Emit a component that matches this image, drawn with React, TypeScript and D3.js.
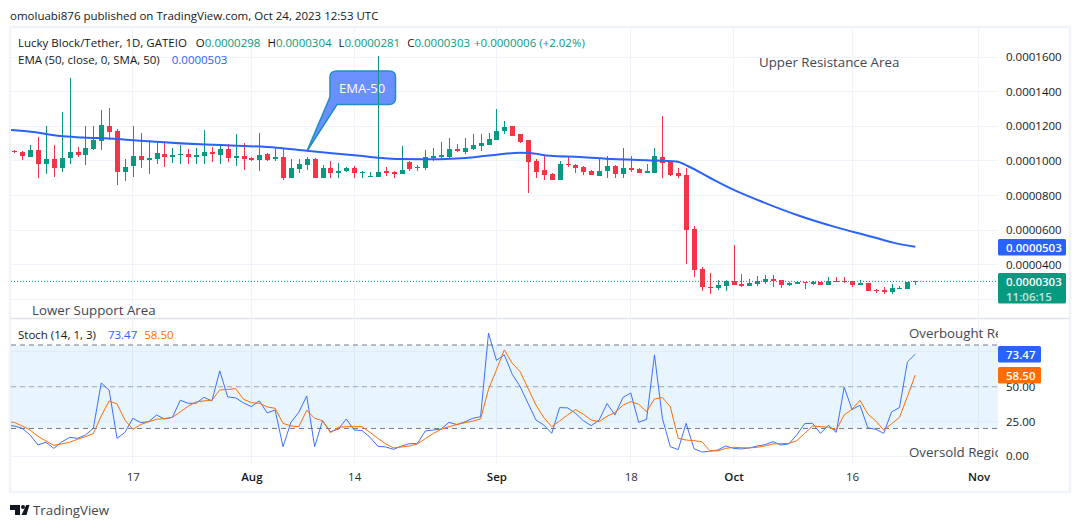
import React, { useEffect, useRef } from 'react';
import * as d3 from 'd3';

// prices are in units of 1 = 0.000001
const opens = [105.7, 105.1, 102.2, 106.2, 98.2, 101.0, 95.8, 101.6, 105.1, 103.4, 106.8, 111.4, 120.1, 117.2, 93.5, 97.0, 102.8, 100.5, 101.0, 103.9, 102.2, 103.4, 103.9, 102.2, 102.8, 105.1, 103.4, 106.8, 101.6, 102.8, 101.6, 100.5, 103.9, 101.0, 102.2, 90.1, 95.3, 97.6, 101.0, 90.1, 95.8, 93.0, 94.1, 95.8, 93.0, 90.6, 90.6, 94.1, 93.5, 92.4, 99.3, 95.8, 95.8, 101.6, 102.2, 102.2, 106.8, 105.1, 106.8, 108.6, 109.1, 112.0, 117.2, 120.1, 115.5, 112.0, 99.9, 94.7, 92.4, 88.9, 98.2, 97.6, 96.4, 94.1, 91.2, 94.1, 97.0, 92.4, 95.8, 95.3, 93.0, 93.0, 102.2, 99.3, 93.0, 91.8, 60.6, 37.5, 27.1, 26.5, 27.6, 30.5, 28.8, 27.6, 28.8, 30.0, 31.7, 31.1, 28.2, 28.8, 30.0, 28.8, 30.0, 28.2, 30.5, 30.5, 30.5, 28.2, 29.4, 25.3, 25.3, 24.2, 25.9, 25.9, 29.8];
const highs = [106.2, 105.7, 109.1, 113.8, 120.1, 109.1, 128.2, 147.9, 108.0, 120.1, 120.1, 129.4, 130.5, 118.4, 101.0, 120.1, 116.1, 112.0, 110.9, 111.4, 107.4, 109.1, 106.8, 107.4, 117.8, 108.0, 108.6, 109.7, 115.5, 110.3, 102.2, 116.1, 104.5, 107.4, 107.4, 101.0, 101.0, 102.2, 101.6, 97.6, 99.9, 98.7, 96.4, 97.0, 94.1, 93.5, 160.6, 96.4, 94.1, 108.6, 99.9, 97.6, 106.2, 107.4, 110.9, 113.2, 109.7, 113.2, 115.5, 115.5, 116.1, 129.9, 123.0, 120.1, 115.5, 112.0, 101.0, 103.4, 93.0, 99.9, 102.8, 98.2, 97.0, 94.7, 101.6, 102.8, 97.6, 107.4, 102.8, 95.8, 98.2, 107.4, 125.9, 99.9, 95.8, 95.8, 62.3, 38.6, 35.2, 31.1, 31.1, 51.3, 34.6, 31.7, 33.4, 34.0, 34.0, 31.1, 30.0, 30.5, 30.0, 30.5, 30.0, 32.8, 32.8, 32.8, 30.5, 31.1, 29.4, 25.9, 27.1, 28.8, 27.6, 30.0, 30.4];
const lows = [104.5, 100.5, 102.2, 90.1, 92.4, 90.6, 93.5, 98.2, 102.2, 97.6, 106.2, 106.2, 112.0, 86.0, 88.3, 90.6, 95.8, 92.4, 98.2, 96.4, 98.7, 98.2, 98.2, 98.2, 98.2, 99.3, 98.2, 99.3, 97.0, 94.7, 99.9, 94.1, 99.9, 99.9, 88.9, 90.1, 93.0, 94.7, 90.1, 90.1, 90.1, 90.1, 93.5, 90.1, 90.1, 90.6, 90.6, 91.2, 90.1, 92.4, 94.1, 94.1, 94.7, 99.9, 101.0, 101.6, 105.1, 103.9, 106.2, 105.7, 109.1, 112.0, 115.5, 114.3, 110.3, 81.4, 90.1, 88.9, 88.9, 88.9, 96.4, 93.0, 91.8, 91.8, 91.2, 90.1, 90.1, 90.1, 93.5, 93.0, 93.0, 93.0, 90.1, 91.2, 90.1, 40.4, 32.8, 24.7, 23.0, 25.3, 24.7, 28.2, 27.1, 27.6, 27.6, 28.8, 27.1, 26.5, 27.6, 28.8, 25.9, 28.2, 28.2, 28.2, 30.0, 29.4, 27.1, 28.2, 24.7, 23.6, 23.0, 23.0, 25.9, 25.9, 28.1];
const closes = [104.8, 102.8, 106.2, 98.2, 101.0, 95.8, 101.6, 105.1, 103.4, 107.4, 112.0, 120.7, 116.7, 93.5, 96.4, 102.8, 100.5, 101.6, 104.5, 102.2, 103.4, 103.9, 102.2, 103.4, 105.1, 103.9, 106.8, 101.6, 102.8, 101.0, 100.5, 103.4, 100.5, 102.2, 90.1, 95.8, 98.2, 101.0, 90.1, 95.8, 93.0, 94.1, 95.8, 93.0, 93.5, 91.2, 93.5, 93.0, 92.4, 94.7, 95.3, 96.4, 102.2, 102.8, 103.4, 106.8, 105.7, 107.4, 109.1, 110.3, 112.6, 117.2, 119.5, 114.3, 110.9, 99.3, 93.5, 91.8, 88.9, 98.2, 97.6, 95.8, 93.5, 91.8, 94.1, 97.0, 92.4, 95.8, 94.7, 93.0, 94.1, 102.8, 98.7, 91.8, 91.2, 60.0, 36.9, 27.1, 26.5, 28.2, 30.5, 28.2, 27.6, 29.4, 30.5, 31.7, 30.5, 28.2, 29.4, 30.0, 29.4, 30.0, 28.2, 30.5, 30.0, 30.0, 28.2, 29.4, 24.7, 24.7, 24.2, 26.5, 26.5, 29.8, 30.3];

// EMA read at these day positions
const emaDays = [-0.5, 2.4, 5.8, 8.7, 13, 15, 23.5, 33.2, 37, 43.7, 46, 49, 51.7, 56, 59.8, 64, 65.2, 67.8, 71.6, 75.7, 80, 83.8, 85.2, 88, 90.9, 94.3, 99.4, 103.6, 108.6, 111.2, 114];
const emaValues = [117.8, 116.7, 114.3, 113.5, 112.6, 111.9, 109.5, 107.6, 105.8, 102.9, 101.8, 101.0, 100.9, 101.4, 102.9, 104.7, 104.5, 102.9, 102.2, 101.0, 100.3, 99.6, 97.0, 90.2, 83.5, 76.9, 68.1, 62.1, 56.0, 52.7, 50.3];

// stochastic, first point is one day before the first candle
const stochK = [22.3, 21.8, 20.1, 15.3, 8.1, 10.1, 5.7, 10.3, 13.6, 12.9, 15.3, 20.1, 52.7, 47.5, 12.9, 17.2, 27.3, 24.2, 24.9, 29.7, 26.8, 28.0, 40.3, 38.1, 38.1, 42.4, 39.8, 61.4, 42.7, 42.0, 38.4, 35.7, 39.8, 31.2, 33.3, 6.9, 24.4, 31.6, 43.4, 6.9, 25.6, 17.7, 19.4, 26.8, 18.9, 18.5, 13.7, 7.2, 6.7, 5.0, 7.4, 9.1, 9.1, 18.2, 18.9, 19.6, 24.4, 22.8, 24.7, 27.3, 28.5, 88.5, 69.0, 72.9, 59.0, 50.1, 38.1, 26.1, 22.5, 16.5, 35.0, 34.8, 30.9, 25.6, 22.0, 26.1, 37.9, 29.7, 42.2, 45.5, 24.4, 26.6, 72.9, 27.3, 6.9, 4.8, 23.7, 5.5, 3.1, 3.6, 4.5, 7.4, 5.7, 5.3, 6.0, 7.4, 8.4, 10.5, 8.1, 8.9, 15.3, 23.5, 23.7, 16.5, 22.3, 17.2, 49.6, 33.6, 36.7, 20.4, 19.4, 16.5, 31.9, 35.0, 67.8, 73.47];
const stochD = [24.7, 24.4, 21.8, 18.9, 14.4, 11.0, 7.9, 8.9, 10.1, 12.2, 14.1, 16.3, 29.0, 39.8, 37.6, 26.1, 19.4, 22.8, 24.9, 26.6, 27.1, 28.0, 31.9, 36.0, 39.1, 39.8, 40.3, 47.7, 48.0, 48.7, 41.0, 38.6, 38.1, 35.5, 34.5, 23.7, 21.8, 21.3, 33.1, 27.3, 25.6, 17.0, 20.9, 21.3, 21.3, 21.3, 17.2, 12.9, 8.9, 6.0, 6.7, 7.4, 8.9, 12.7, 16.3, 19.4, 21.3, 22.8, 24.2, 25.2, 26.8, 48.2, 62.1, 76.5, 66.9, 60.9, 48.9, 36.9, 27.8, 21.3, 25.4, 29.7, 33.6, 30.2, 26.1, 24.9, 28.8, 31.4, 36.7, 39.3, 37.4, 32.1, 41.2, 42.2, 35.7, 12.9, 11.7, 11.2, 10.5, 4.1, 3.8, 5.7, 6.5, 6.2, 6.0, 6.5, 7.4, 8.9, 9.1, 9.3, 11.2, 16.5, 21.8, 21.3, 20.9, 18.9, 29.7, 33.8, 40.3, 30.4, 25.4, 18.9, 23.3, 28.0, 42.9, 58.5];

const priceTicks = [160, 140, 120, 100, 80, 60, 40];
const stochGrid = [0, 25, 50, 75];
// 75.00 is hidden behind the 73.47 tag in the reference
const stochTicks = [0, 25, 50];
const timeTicks = [15, 30, 43, 61, 78, 91, 106, 122];
const timeLabels = ['17', 'Aug', '14', 'Sep', '18', 'Oct', '16', 'Nov'];
const boldLabels = ['Aug', 'Sep', 'Oct', 'Nov'];

const UP = '#089981';
const DOWN = '#f23645';
const BLUE = '#2962ff';
const ORANGE = '#ff6d00';
const GRID = '#f0f3fa';
const FONT = "'Open Sans', sans-serif";
const TEXT_SIZE = 11.5;

const App: React.FC = () => {
  const svgRef = useRef<SVGSVGElement>(null);

  useEffect(() => {
    const svg = d3.select(svgRef.current);
    svg.selectAll('*').remove();

    const paneRight = 998;
    const x = d3.scaleLinear().domain([0, 114]).range([14.3, 915.3]);
    const y = d3.scaleLinear().domain([160, 20]).range([57, 299.2]);
    const yStoch = d3.scaleLinear().domain([0, 80]).range([456.3, 345]);

    const defs = svg.append('defs');
    defs.append('clipPath').attr('id', 'main-clip').append('rect').attr('x', 11).attr('y', 28).attr('width', paneRight - 11).attr('height', 289);
    defs.append('clipPath').attr('id', 'stoch-clip').append('rect').attr('x', 11).attr('y', 320).attr('width', paneRight - 11).attr('height', 145);

    const label = (sel: any, px: number, py: number, text: string, size = TEXT_SIZE, fill = '#131722') =>
      sel.append('text').attr('x', px).attr('y', py).attr('font-size', size).attr('fill', fill).attr('dominant-baseline', 'central').text(text);

    svg.attr('font-family', FONT);
    svg.append('rect').attr('width', 1080).attr('height', 528).attr('fill', '#fff');

    // outer frame
    svg.append('rect').attr('x', 10).attr('y', 27).attr('width', 1060).attr('height', 465).attr('fill', 'none').attr('stroke', GRID).attr('stroke-width', 2.5);

    label(svg, 10, 15, 'omoluabi876 published on TradingView.com, Oct 24, 2023 12:53 UTC');

    // grid
    const gridG = svg.append('g').attr('shape-rendering', 'crispEdges');
    gridG.selectAll('.h').data(priceTicks.concat([20])).enter().append('line')
      .attr('x1', 11).attr('x2', paneRight).attr('y1', d => y(d)).attr('y2', d => y(d)).attr('stroke', GRID);
    gridG.selectAll('.v').data(timeTicks).enter().append('line')
      .attr('x1', d => x(d)).attr('x2', d => x(d)).attr('y1', 28).attr('y2', 317).attr('stroke', GRID);
    gridG.selectAll('.v2').data(timeTicks).enter().append('line')
      .attr('x1', d => x(d)).attr('x2', d => x(d)).attr('y1', 320).attr('y2', 465).attr('stroke', GRID);

    // pane separator
    svg.append('line').attr('x1', 11).attr('x2', 1069).attr('y1', 318.5).attr('y2', 318.5).attr('stroke', '#e0e3eb').attr('stroke-width', 1.5);

    // callout sits under the candles
    const callout = svg.append('g');
    callout.append('path')
      .attr('d', 'M337 71 H389 Q395.5 71 395.5 77 V98 Q395.5 104.5 389 104.5 H337 L307 151 L330 97 V77 Q330 71 337 71 Z')
      .attr('fill', '#6a90ff').attr('stroke', '#1e8fc4').attr('stroke-width', 1.5);
    label(callout, 339, 87.5, 'EMA-50', 13, '#fff').attr('font-weight', 500);

    // candles
    const main = svg.append('g').attr('clip-path', 'url(#main-clip)');
    const candleG = main.append('g').attr('shape-rendering', 'crispEdges');
    const days = d3.range(opens.length);
    const color = (i: number) => (closes[i] >= opens[i] ? UP : DOWN);
    candleG.selectAll('.wick').data(days).enter().append('rect')
      .attr('x', i => Math.round(x(i)))
      .attr('width', 1)
      .attr('y', i => y(highs[i]))
      .attr('height', i => y(lows[i]) - y(highs[i]))
      .attr('fill', color);
    candleG.selectAll('.body').data(days).enter().append('rect')
      .attr('x', i => Math.round(x(i)) - 2)
      .attr('width', 5)
      .attr('y', i => y(Math.max(opens[i], closes[i])))
      .attr('height', i => Math.max(1, Math.abs(y(opens[i]) - y(closes[i]))))
      .attr('fill', color);

    // EMA
    const emaLine = d3.line<number>().x((_, i) => x(emaDays[i])).y(d => y(d)).curve(d3.curveMonotoneX);
    main.append('path').attr('d', emaLine(emaValues)).attr('fill', 'none').attr('stroke', BLUE).attr('stroke-width', 2);

    // last price line
    const lastY = y(closes[closes.length - 1]);
    svg.append('line').attr('x1', 11).attr('x2', paneRight).attr('y1', lastY).attr('y2', lastY)
      .attr('stroke', UP).attr('stroke-width', 1).attr('stroke-dasharray', '1 2');

    // legends
    const legendText = (py: number) =>
      svg.append('text').attr('x', 18).attr('y', py).attr('font-size', TEXT_SIZE).attr('dominant-baseline', 'central').attr('fill', '#131722');
    const legend = legendText(42);
    legend.append('tspan').text('Lucky Block/Tether, 1D, GATEIO');
    [['O', '0.0000298'], ['H', '0.0000304'], ['L', '0.0000281'], ['C', '0.0000303']].forEach(([k, v], i) => {
      legend.append('tspan').attr('dx', i === 0 ? 9 : 7).text(k);
      legend.append('tspan').attr('fill', UP).text(v);
    });
    legend.append('tspan').attr('dx', 4).attr('fill', UP).text('+0.0000006 (+2.02%)');

    const emaLegend = legendText(59);
    emaLegend.append('tspan').text('EMA (50, close, 0, SMA, 50)');
    emaLegend.append('tspan').attr('dx', 12).attr('fill', BLUE).text('0.0000503');

    const stochLegend = legendText(334);
    stochLegend.append('tspan').text('Stoch (14, 1, 3)');
    stochLegend.append('tspan').attr('dx', 12).attr('fill', BLUE).text('73.47');
    stochLegend.append('tspan').attr('dx', 7).attr('fill', ORANGE).text('58.50');

    // price axis
    const priceAxis = d3.axisRight(y).tickValues(priceTicks).tickSize(0).tickPadding(8)
      .tickFormat(d => (Number(d) / 1e6).toFixed(7));
    const pa = svg.append('g').attr('transform', `translate(${paneRight},0)`).call(priceAxis);
    pa.select('.domain').remove();
    pa.selectAll('text').attr('font-size', TEXT_SIZE).attr('font-family', FONT).attr('fill', '#131722');

    // stochastic pane
    const stoch = svg.append('g').attr('clip-path', 'url(#stoch-clip)');
    stoch.append('rect').attr('x', 11).attr('width', paneRight - 11).attr('y', yStoch(80)).attr('height', yStoch(20) - yStoch(80)).attr('fill', '#2196f3').attr('fill-opacity', 0.1);
    stoch.selectAll('.sg').data(stochGrid).enter().append('line')
      .attr('x1', 11).attr('x2', paneRight).attr('y1', d => yStoch(d)).attr('y2', d => yStoch(d))
      .attr('stroke', GRID).attr('shape-rendering', 'crispEdges');
    stoch.selectAll('.sg2').data(stochGrid.filter(d => d > 20)).enter().append('line')
      .attr('x1', 11).attr('x2', paneRight).attr('y1', d => yStoch(d)).attr('y2', d => yStoch(d))
      .attr('stroke', '#2196f3').attr('stroke-opacity', 0.08).attr('shape-rendering', 'crispEdges');
    stoch.selectAll('.lvl').data([80, 50, 20]).enter().append('line')
      .attr('x1', 11).attr('x2', paneRight).attr('y1', d => yStoch(d)).attr('y2', d => yStoch(d))
      .attr('stroke', '#787b86').attr('stroke-opacity', d => (d === 50 ? 0.6 : 1)).attr('stroke-dasharray', '5 4');

    const stochLine = d3.line<number>().x((_, i) => x(i - 1)).y(d => yStoch(d));
    stoch.append('path').attr('d', stochLine(stochK)).attr('fill', 'none').attr('stroke', BLUE).attr('stroke-width', 1).attr('opacity', 0.9);
    stoch.append('path').attr('d', stochLine(stochD)).attr('fill', 'none').attr('stroke', ORANGE).attr('stroke-width', 1);

    const stochAxis = d3.axisRight(yStoch).tickValues(stochTicks).tickSize(0).tickPadding(8).tickFormat(d => Number(d).toFixed(2));
    const sa = svg.append('g').attr('transform', `translate(${paneRight},0)`).call(stochAxis);
    sa.select('.domain').remove();
    sa.selectAll('text').attr('font-size', TEXT_SIZE).attr('font-family', FONT).attr('fill', '#131722');

    // time axis
    const timeAxis = d3.axisBottom(x).tickValues(timeTicks).tickSize(0).tickPadding(0)
      .tickFormat((_, i) => timeLabels[i]);
    const ta = svg.append('g').attr('transform', 'translate(0,473)').call(timeAxis);
    ta.select('.domain').remove();
    ta.selectAll('text').attr('font-size', TEXT_SIZE).attr('font-family', FONT)
      .attr('fill', (_, i) => (boldLabels.includes(timeLabels[i]) ? '#131722' : '#2a2e39'))
      .attr('font-weight', (_, i) => (boldLabels.includes(timeLabels[i]) ? 600 : 400));

    // price labels on the scale
    const tag = (top: number, h: number, w: number, fill: string) =>
      svg.append('rect').attr('x', paneRight).attr('y', top).attr('width', w).attr('height', h).attr('rx', 1.5).attr('fill', fill);
    tag(239, 16.5, 68, BLUE);
    label(svg, 1006, 247.3, '0.0000503', TEXT_SIZE, '#fff').attr('font-weight', 600);
    tag(273, 30.5, 68, UP);
    label(svg, 1006, 281.5, '0.0000303', TEXT_SIZE, '#fff').attr('font-weight', 600);
    label(svg, 1006, 296, '11:06:15', TEXT_SIZE, '#ffffff').attr('opacity', 0.75).attr('font-weight', 600);
    tag(346, 16.5, 43, BLUE);
    label(svg, 1006, 354.5, '73.47', TEXT_SIZE, '#fff').attr('font-weight', 600);
    tag(367, 16.5, 43, ORANGE);
    label(svg, 1006, 375.5, '58.50', TEXT_SIZE, '#fff').attr('font-weight', 600);

    // drawn text notes, cut off by the price scale as in the reference
    label(svg, 759, 62, 'Upper Resistance Area', 13.3, '#434651');
    label(svg, 32, 310, 'Lower Support Area', 13.3, '#434651');
    const notes = svg.append('g').attr('clip-path', 'url(#stoch-clip)');
    label(notes, 909, 333, 'Overbought Re', 13.3, '#434651');
    label(notes, 909, 452, 'Oversold Regio', 13.3, '#434651');

    // TradingView mark
    const mark = svg.append('g').attr('fill', '#131722');
    mark.append('path').attr('d', 'M10 505 H20 V515 H15 V510 H10 Z');
    mark.append('circle').attr('cx', 23).attr('cy', 507).attr('r', 2);
    mark.append('path').attr('d', 'M26.2 505 H29.5 L26.5 515 H21.5 Z');
    label(svg, 33, 510, 'TradingView', 13.3, '#434651');
  }, []);

  return <svg ref={svgRef} width={1080} height={528} style={{ position: 'absolute', left: 0, top: 0 }} />;
};

export default App;
